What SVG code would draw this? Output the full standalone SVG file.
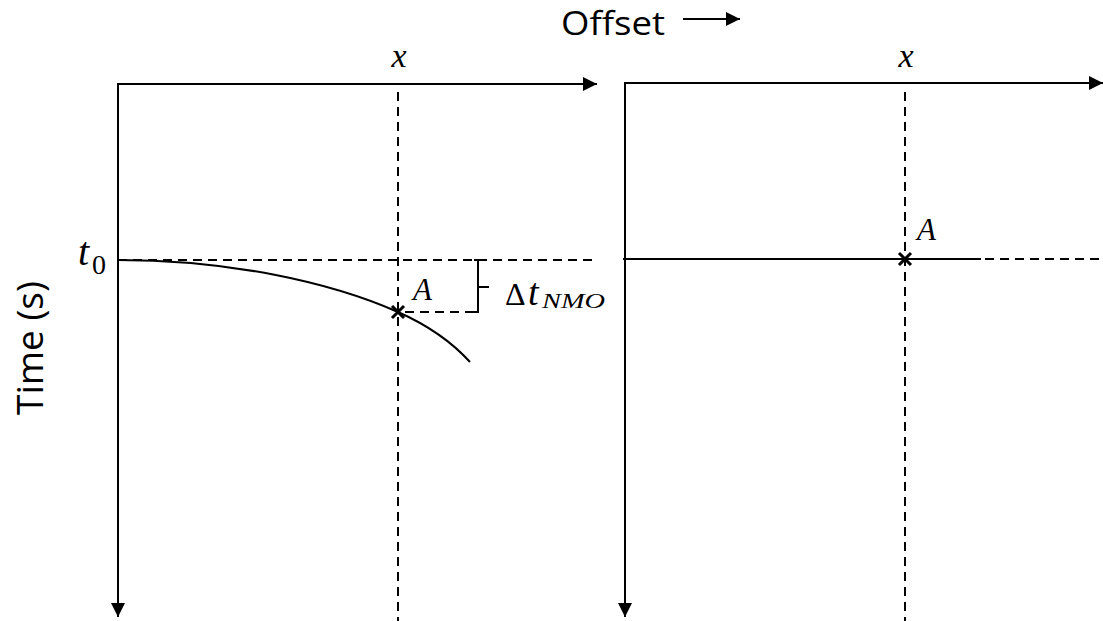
<svg xmlns="http://www.w3.org/2000/svg" width="1103" height="621" viewBox="0 0 1103 621">
<style>
.ax{stroke:#000;stroke-width:2;fill:none}
.dash{stroke:#000;stroke-width:2;fill:none;stroke-dasharray:9 6}
.xm{stroke:#000;stroke-width:3;fill:none}
.m{font-family:"Liberation Serif","DejaVu Serif",serif;font-style:italic;fill:#000}
.u{font-family:"Liberation Serif","DejaVu Serif",serif;fill:#000}
.t{font-family:"Open Sans","Liberation Sans",sans-serif;fill:#000}
</style>
<defs>
<marker id="ah" viewBox="0 0 10 10" refX="10" refY="5" markerWidth="7" markerHeight="7" markerUnits="strokeWidth" orient="auto">
<path d="M0,0 L10,5 L0,10 z" fill="#000"/>
</marker>
</defs>
<rect width="1103" height="621" fill="#fff"/>
<g id="connectors">
<path class="ax" d="M118,84 L597,84" marker-end="url(#ah)"/>
<path class="ax" d="M118,83 L118,617" marker-end="url(#ah)"/>
<line class="dash" x1="398" y1="92" x2="398" y2="621"/>
<line class="dash" x1="118" y1="260" x2="598" y2="260"/>
<path class="ax" d="M118,260 C230,260 330,282 398,312 C425,324 450,340 470,362"/>
<line class="dash" x1="405" y1="312" x2="476" y2="312"/>
<path class="ax" d="M474,260 L478,260 L478,312 L474,312 M478,287 L489,287"/>
<path class="ax" d="M625,83 L1103,83" marker-end="url(#ah)"/>
<path class="ax" d="M625,82 L625,617" marker-end="url(#ah)"/>
<line class="dash" x1="905" y1="92" x2="905" y2="621"/>
<line class="ax" x1="623" y1="259" x2="981" y2="259"/>
<line class="dash" x1="985" y1="259" x2="1103" y2="259"/>
<line class="ax" x1="683" y1="19" x2="740" y2="19" marker-end="url(#ah)"/>
</g>
<g id="pointA-left">
<path class="xm" d="M392,306 L404,318 M404,306 L392,318"/>
<text class="m" x="413" y="300" font-size="31">A</text>
</g>
<g id="pointA-right">
<path class="xm" d="M899,253 L911,265 M911,253 L899,265"/>
<text class="m" x="917" y="240" font-size="31">A</text>
</g>
<g id="labels">
<text class="t" x="561" y="35" font-size="33" textLength="104" lengthAdjust="spacingAndGlyphs">Offset</text>
<text class="m" x="399" y="67" font-size="34" text-anchor="middle">x</text>
<text class="m" x="906" y="67" font-size="34" text-anchor="middle">x</text>
<text class="m" x="78" y="265" font-size="40">t</text>
<text class="u" x="92" y="274" font-size="28">0</text>
<text class="u" x="505" y="305" font-size="32">Δ</text>
<text class="m" x="528" y="305" font-size="38">t</text>
<text class="m" x="542" y="308" font-size="22" textLength="63" lengthAdjust="spacingAndGlyphs">NMO</text>
<text class="t" transform="translate(43,348) rotate(-90)" font-size="37" text-anchor="middle">Time (s)</text>
</g>
</svg>
